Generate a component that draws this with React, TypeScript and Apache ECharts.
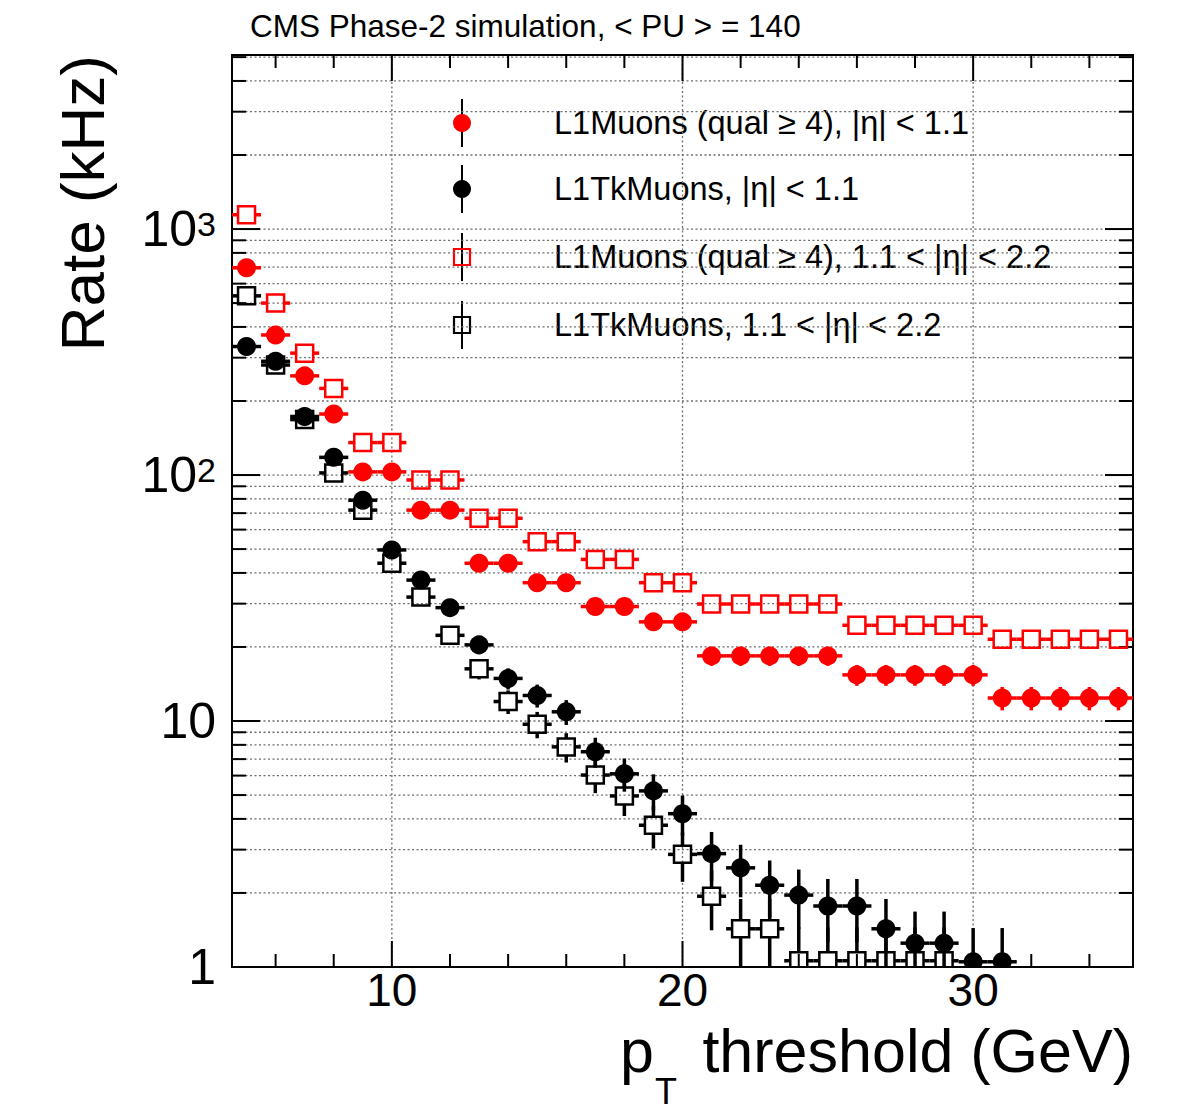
import React, { useEffect, useRef } from "react";
import * as echarts from "echarts";

// ---------- data ----------
const PT_THRESHOLDS = [5, 6, 7, 8, 9, 10, 11, 12, 13, 14, 15, 16, 17, 18, 19, 20, 21, 22, 23, 24, 25, 26, 27, 28, 29, 30, 31, 32, 33, 34, 35];
const BIN_HALF_WIDTH = 0.5;

// L1Muons (qual >= 4), |eta| < 1.1
const L1MU_BARREL = [696, 371, 253, 177, 103, 103, 72, 72, 43.8, 43.8, 36.5, 36.5, 29.2, 29.2, 25.3, 25.3, 18.4, 18.4, 18.4, 18.4, 18.4, 15.4, 15.4, 15.4, 15.4, 15.4, 12.4, 12.4, 12.4, 12.4, 12.4];
const L1MU_BARREL_ERR = [10.1, 7.4, 6.1, 5.1, 3.9, 3.9, 3.24, 3.24, 2.53, 2.53, 2.31, 2.31, 2.06, 2.06, 1.92, 1.92, 1.64, 1.64, 1.64, 1.64, 1.64, 1.5, 1.5, 1.5, 1.5, 1.5, 1.35, 1.35, 1.35, 1.35, 1.35];

// L1TkMuons, |eta| < 1.1
const TKMU_BARREL = [333, 290, 173, 118, 79, 49.6, 37.4, 28.9, 20.4, 14.9, 12.7, 10.9, 7.5, 6.1, 5.2, 4.2, 2.89, 2.53, 2.15, 1.96, 1.77, 1.77, 1.43, 1.25, 1.25, 1.05, 1.05, null, null, null, null];
const TKMU_BARREL_ERR = [7.0, 6.5, 5.0, 4.15, 3.4, 2.69, 2.34, 2.05, 1.73, 1.47, 1.36, 1.26, 1.05, 0.94, 0.87, 0.78, 0.65, 0.61, 0.56, 0.53, 0.51, 0.51, 0.46, 0.43, 0.43, 0.39, 0.39, null, null, null, null];

// L1Muons (qual >= 4), 1.1 < |eta| < 2.2
const L1MU_ENDCAP = [1143, 500, 313, 225, 135.5, 135.5, 95.5, 95.5, 66.7, 66.7, 53.6, 53.6, 45.4, 45.4, 36.5, 36.5, 29.9, 29.9, 29.9, 29.9, 29.9, 24.5, 24.5, 24.5, 24.5, 24.5, 21.5, 21.5, 21.5, 21.5, 21.5];
const L1MU_ENDCAP_ERR = [12.9, 8.5, 6.8, 5.7, 4.45, 4.45, 3.73, 3.73, 3.12, 3.12, 2.8, 2.8, 2.57, 2.57, 2.31, 2.31, 2.09, 2.09, 2.09, 2.09, 2.09, 1.89, 1.89, 1.89, 1.89, 1.89, 1.77, 1.77, 1.77, 1.77, 1.77];

// L1TkMuons, 1.1 < |eta| < 2.2
const TKMU_ENDCAP = [535, 280, 168, 102, 72, 43.8, 31.9, 22.3, 16.3, 12.0, 9.7, 7.85, 6.03, 4.96, 3.77, 2.87, 1.94, 1.43, 1.43, 1.06, 1.06, 1.06, 1.06, 1.06, 1.06, null, null, null, null, null, null];
const TKMU_ENDCAP_ERR = [8.8, 6.4, 4.95, 3.86, 3.24, 2.53, 2.16, 1.8, 1.54, 1.32, 1.19, 1.07, 0.94, 0.85, 0.74, 0.65, 0.53, 0.46, 0.46, 0.39, 0.39, 0.39, 0.39, 0.39, 0.39, null, null, null, null, null, null];

// axes
const X_MIN = 4.5;
const X_MAX = 35.5;
const Y_MIN = 1;
const Y_MAX = 5100;
const X_MAJOR_TICKS = [10, 20, 30];
const X_MINOR_TICKS = [6, 8, 12, 14, 16, 18, 22, 24, 26, 28, 32, 34];
const X_TICK_LABELS = ["10", "20", "30"];
const Y_MAJOR_TICKS = [1, 10, 100, 1000];
const Y_MINOR_TICKS = [2, 3, 4, 5, 6, 7, 8, 9, 20, 30, 40, 50, 60, 70, 80, 90, 200, 300, 400, 500, 600, 700, 800, 900, 2000, 3000, 4000, 5000];
const Y_TICK_LABELS = ["1", "10", "{b|10}{s|2}", "{b|10}{s|3}"];

const TITLE = "CMS Phase-2 simulation, < PU > = 140";
const LEGEND_LABELS = [
  "L1Muons (qual \u2265 4), |\u03b7| < 1.1",
  "L1TkMuons, |\u03b7| < 1.1",
  "L1Muons (qual \u2265 4), 1.1 < |\u03b7| < 2.2",
  "L1TkMuons, 1.1 < |\u03b7| < 2.2",
];

// ---------- styles ----------
const FONT = '"Liberation Sans", Arial, Helvetica, sans-serif';
const RED = "#ff0000";
const BLACK = "#000000";
const MARKER_R = 9.5;
const SQUARE = 17;
const BAR_W = 3.5;

type Pt = number[];

function seg(x1: number, y1: number, x2: number, y2: number, stroke: string, lineWidth: number, lineDash?: number[]) {
  return {
    type: "line",
    shape: { x1, y1, x2, y2 },
    style: { stroke, lineWidth, lineDash: lineDash || null, fill: "none" },
  };
}

function dataSeries(name: string, vals: (number | null)[], errs: (number | null)[], color: string, open: boolean, z: number) {
  const data = PT_THRESHOLDS.map((x, i) => (vals[i] == null ? null : [x, vals[i], errs[i]])).filter((d) => d !== null);
  return {
    type: "custom",
    name,
    z,
    clip: true,
    silent: true,
    coordinateSystem: "cartesian2d",
    encode: { x: 0, y: 1 },
    data,
    renderItem: (params: any, api: any) => {
      const cs = params.coordSys;
      const bottom = cs.y + cs.height;
      const x = api.value(0) as number;
      const v = api.value(1) as number;
      const e = api.value(2) as number;
      const c: Pt = api.coord([x, v]);
      const l: Pt = api.coord([x - BIN_HALF_WIDTH, v]);
      const r: Pt = api.coord([x + BIN_HALF_WIDTH, v]);
      const t: Pt = api.coord([x, v + e]);
      const b: Pt = api.coord([x, v - e]);
      const by = Math.min(b[1], bottom);
      const children: any[] = [];
      if (open) {
        const h = SQUARE / 2;
        children.push(seg(l[0], c[1], c[0] - h, c[1], color, BAR_W));
        children.push(seg(c[0] + h, c[1], r[0], c[1], color, BAR_W));
        if (t[1] < c[1] - h) children.push(seg(c[0], t[1], c[0], c[1] - h, color, BAR_W));
        if (by > c[1] + h) children.push(seg(c[0], c[1] + h, c[0], by, color, BAR_W));
        children.push({
          type: "rect",
          shape: { x: c[0] - h, y: c[1] - h, width: SQUARE, height: SQUARE },
          style: { fill: "none", stroke: color, lineWidth: 2.5 },
        });
      } else {
        children.push(seg(l[0], c[1], r[0], c[1], color, BAR_W));
        children.push(seg(c[0], t[1], c[0], by, color, BAR_W));
        children.push({ type: "circle", shape: { cx: c[0], cy: c[1], r: MARKER_R }, style: { fill: color } });
      }
      return { type: "group", children };
    },
  };
}

const richLabel = {
  b: { fontSize: 50, fontFamily: FONT, fill: BLACK, lineHeight: 44 },
  s: { fontSize: 34, fontFamily: FONT, fill: BLACK, lineHeight: 26, verticalAlign: "top" },
};

function yFrameSeries() {
  const data = [
    ...Y_MAJOR_TICKS.map((v, i) => [X_MIN, v, 1, i]),
    ...Y_MINOR_TICKS.map((v) => [X_MIN, v, 0, -1]),
  ];
  return {
    type: "custom",
    z: 1,
    silent: true,
    clip: false,
    coordinateSystem: "cartesian2d",
    encode: { x: 0, y: 1 },
    data,
    renderItem: (params: any, api: any) => {
      const cs = params.coordSys;
      const v = api.value(1) as number;
      const major = api.value(2) === 1;
      const li = api.value(3) as number;
      const y = api.coord([X_MIN, v])[1];
      const x0 = cs.x;
      const x1 = cs.x + cs.width;
      const len = major ? 28 : 14;
      const children: any[] = [];
      if (v > Y_MIN) children.push(seg(x0, y, x1, y, "#6e6e6e", 1.3, [2, 2.5]));
      children.push(seg(x0, y, x0 + len, y, BLACK, 2));
      children.push(seg(x1 - len, y, x1, y, BLACK, 2));
      if (major && li >= 0) {
        children.push({
          type: "text",
          x: x0 - 16,
          y,
          style: {
            text: Y_TICK_LABELS[li],
            fontSize: 50,
            lineHeight: 44,
            fontFamily: FONT,
            fill: BLACK,
            align: "right",
            verticalAlign: "middle",
            textAlign: "right",
            textVerticalAlign: "middle",
            rich: richLabel,
          },
        });
      }
      return { type: "group", children };
    },
  };
}

function xFrameSeries() {
  const data = [
    ...X_MAJOR_TICKS.map((v, i) => [v, Y_MIN, 1, i]),
    ...X_MINOR_TICKS.map((v) => [v, Y_MIN, 0, -1]),
  ];
  return {
    type: "custom",
    z: 1,
    silent: true,
    clip: false,
    coordinateSystem: "cartesian2d",
    encode: { x: 0, y: 1 },
    data,
    renderItem: (params: any, api: any) => {
      const cs = params.coordSys;
      const v = api.value(0) as number;
      const major = api.value(2) === 1;
      const li = api.value(3) as number;
      const x = api.coord([v, Y_MIN])[0];
      const y0 = cs.y;
      const y1 = cs.y + cs.height;
      const len = major ? 26 : 13;
      const children: any[] = [];
      if (major) children.push(seg(x, y0, x, y1, "#6e6e6e", 1.3, [2, 2.5]));
      children.push(seg(x, y1, x, y1 - len, BLACK, 2));
      children.push(seg(x, y0, x, y0 + len, BLACK, 2));
      if (major && li >= 0) {
        children.push({
          type: "text",
          x,
          y: y1 + 23,
          style: {
            text: X_TICK_LABELS[li],
            fontSize: 46,
            lineHeight: 38,
            fontFamily: FONT,
            fill: BLACK,
            align: "center",
            verticalAlign: "middle",
            textAlign: "center",
            textVerticalAlign: "middle",
          },
        });
      }
      return { type: "group", children };
    },
  };
}

function legendGraphics() {
  const rows = [123, 189, 257, 325];
  const mx = 462;
  const specs = [
    { color: RED, open: false },
    { color: BLACK, open: false },
    { color: RED, open: true },
    { color: BLACK, open: true },
  ];
  const out: any[] = [];
  rows.forEach((ry, i) => {
    const s = specs[i];
    out.push({ type: "line", shape: { x1: mx, y1: ry - 24, x2: mx, y2: ry + 24 }, style: { stroke: BLACK, lineWidth: 2 } });
    if (s.open) {
      out.push({
        type: "rect",
        shape: { x: mx - 8, y: ry - 8, width: 16, height: 16 },
        style: { fill: "none", stroke: s.color, lineWidth: 2.2 },
      });
    } else {
      out.push({ type: "circle", shape: { cx: mx, cy: ry, r: 9 }, style: { fill: s.color } });
    }
    out.push({
      type: "text",
      x: 554,
      y: ry,
      style: { text: LEGEND_LABELS[i], fontSize: 32.5, fontFamily: FONT, fill: BLACK, align: "left", verticalAlign: "middle" },
    });
  });
  return out;
}

export default function App() {
  const ref = useRef<HTMLDivElement>(null);
  useEffect(() => {
    if (!ref.current) return;
    const chart = echarts.init(ref.current, undefined, { renderer: "svg" });
    const option: any = {
      animation: false,
      backgroundColor: "#ffffff",
      grid: {
        left: 232,
        top: 55,
        width: 901,
        height: 912,
        show: true,
        borderColor: BLACK,
        borderWidth: 2,
        backgroundColor: "transparent",
        containLabel: false,
      },
      xAxis: {
        type: "value",
        min: X_MIN,
        max: X_MAX,
        axisLine: { show: false },
        axisTick: { show: false },
        axisLabel: { show: false },
        splitLine: { show: false },
      },
      yAxis: {
        type: "log",
        logBase: 10,
        min: Y_MIN,
        max: Y_MAX,
        axisLine: { show: false },
        axisTick: { show: false },
        axisLabel: { show: false },
        splitLine: { show: false },
      },
      series: [
        yFrameSeries(),
        xFrameSeries(),
        dataSeries("L1Muons endcap", L1MU_ENDCAP, L1MU_ENDCAP_ERR, RED, true, 3),
        dataSeries("L1TkMuons endcap", TKMU_ENDCAP, TKMU_ENDCAP_ERR, BLACK, true, 3),
        dataSeries("L1Muons barrel", L1MU_BARREL, L1MU_BARREL_ERR, RED, false, 4),
        dataSeries("L1TkMuons barrel", TKMU_BARREL, TKMU_BARREL_ERR, BLACK, false, 4),
      ],
      graphic: [
        {
          type: "text",
          left: 250,
          top: 10,
          style: { text: TITLE, fontSize: 31.5, fontFamily: FONT, fill: BLACK },
        },
        {
          type: "text",
          x: 82,
          y: 55,
          rotation: Math.PI / 2,
          style: { text: "Rate (kHz)", fontSize: 62, fontFamily: FONT, fill: BLACK, align: "right", verticalAlign: "middle" },
        },
        {
          type: "text",
          x: 620,
          y: 1051,
          style: { text: "p", fontSize: 61, lineHeight: 46, fontFamily: FONT, fill: BLACK, align: "left", verticalAlign: "middle" },
        },
        {
          type: "text",
          x: 655,
          y: 1091,
          style: { text: "T", fontSize: 36, lineHeight: 30, fontFamily: FONT, fill: BLACK, align: "left", verticalAlign: "middle" },
        },
        {
          type: "text",
          x: 1133,
          y: 1051,
          style: { text: "threshold (GeV)", fontSize: 61, lineHeight: 46, fontFamily: FONT, fill: BLACK, align: "right", verticalAlign: "middle" },
        },
        ...legendGraphics(),
      ],
    };
    chart.setOption(option);
    return () => chart.dispose();
  }, []);
  return (
    <div
      ref={ref}
      style={{ position: "fixed", left: 0, top: 0, width: 1188, height: 1115, background: "#ffffff" }}
    />
  );
}
